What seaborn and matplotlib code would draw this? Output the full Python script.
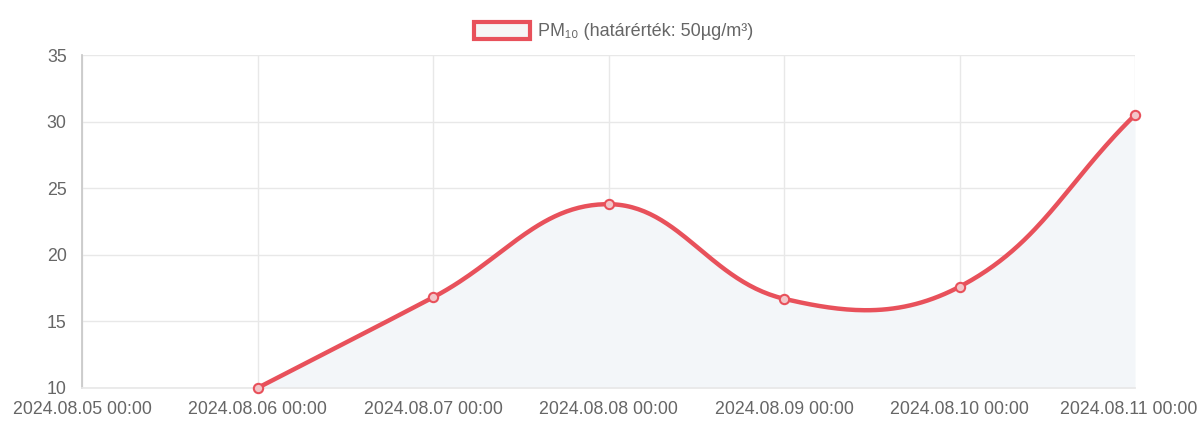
import numpy as np
import pandas as pd
import matplotlib
matplotlib.use("Agg")
import matplotlib.pyplot as plt
import matplotlib.dates as mdates
import matplotlib.transforms as mtransforms
from matplotlib.patches import Rectangle
import seaborn as sns

# ---- data ----
dates = ["2024-08-06", "2024-08-07", "2024-08-08", "2024-08-09", "2024-08-10", "2024-08-11"]
pm10 = [10.0, 16.8, 23.8, 16.7, 17.6, 30.5]
tick_dates = ["2024-08-05", "2024-08-06", "2024-08-07", "2024-08-08", "2024-08-09", "2024-08-10", "2024-08-11"]
label = "PM₁₀ (határérték: 50µg/m³)"

LINE = "#e8515b"
FILL = "#f3f6f9"
TXT = "#666666"
GRID = "#e8e8e8"

sns.set_theme(style="white")
plt.rcParams["font.family"] = ["Liberation Sans", "DejaVu Sans"]

fig = plt.figure(figsize=(12.01, 4.30), dpi=100)
ax = fig.add_axes([82/1201, 1-388/430, (1135-82)/1201, (388-55)/430])

x = mdates.date2num(pd.to_datetime(dates))
y = np.array(pm10, dtype=float)

xmin = mdates.date2num(pd.Timestamp(tick_dates[0]))
xmax = mdates.date2num(pd.Timestamp(tick_dates[-1]))
ymin, ymax = 10, 35

# Chart.js-like bezier smoothing (tension 0.4), distances computed in pixel space
pxx = (1135-82)/(xmax-xmin)
pxy = (388-55)/(ymax-ymin)
P = np.column_stack([x*pxx, y*pxy])
t = 0.4
n = len(P)
cp_prev = P.copy(); cp_next = P.copy()
for i in range(n):
    prev = P[i-1] if i > 0 else P[i]
    nxt = P[i+1] if i < n-1 else P[i]
    d01 = np.hypot(*(P[i]-prev)); d12 = np.hypot(*(nxt-P[i]))
    tot = d01 + d12
    s01 = d01/tot if tot else 0; s12 = d12/tot if tot else 0
    cp_prev[i] = P[i] - t*s01*(nxt-prev)
    cp_next[i] = P[i] + t*s12*(nxt-prev)
cx, cy = [], []
ts = np.linspace(0, 1, 60)
for i in range(n-1):
    p0, p1, p2, p3 = P[i], cp_next[i], cp_prev[i+1], P[i+1]
    b = ((1-ts)**3)[:, None]*p0 + (3*(1-ts)**2*ts)[:, None]*p1 + (3*(1-ts)*ts**2)[:, None]*p2 + (ts**3)[:, None]*p3
    cx.extend(b[:, 0]/pxx); cy.extend(b[:, 1]/pxy)
cx = np.array(cx); cy = np.clip(np.array(cy), ymin, ymax)

ax.fill_between(cx, cy, ymin, color=FILL, zorder=1, linewidth=0)
sns.lineplot(x=cx, y=cy, ax=ax, color=LINE, linewidth=3.2, sort=False, zorder=3)
sns.scatterplot(x=x, y=y, ax=ax, s=45, color="#f3c6c9", edgecolor=LINE, linewidth=1.5, zorder=4, clip_on=False)

ax.set_xlim(xmin, xmax)
ax.set_ylim(ymin, ymax)
ticks = mdates.date2num(pd.to_datetime(tick_dates))
ax.set_xticks(ticks)
ax.set_xticklabels([pd.Timestamp(d).strftime("%Y.%m.%d 00:00") for d in tick_dates])
ax.set_yticks([10, 15, 20, 25, 30, 35])
ax.grid(True, color=GRID, linewidth=1)
ax.set_axisbelow(True)
for s in ["top", "right"]:
    ax.spines[s].set_visible(False)
ax.spines["bottom"].set_color(GRID)
ax.spines["left"].set_color("#c8c8c8")
ax.tick_params(axis="both", colors=TXT, labelsize=12.8, length=7, color=GRID, direction="out")
ax.tick_params(axis="x", pad=2)
ax.tick_params(axis="y", pad=4)
ax.set_xlabel(""); ax.set_ylabel("")

# shift the last x label left so it fits inside the canvas (as Chart.js does)
last = ax.get_xticklabels()[-1]
last.set_transform(last.get_transform() + mtransforms.ScaledTranslation(-6/100, 0, fig.dpi_scale_trans))

# legend
fig.patches.append(Rectangle((474/1201, 1-39/430), 56/1201, 17/430, transform=fig.transFigure,
                             facecolor="#f6f6f6", edgecolor=LINE, linewidth=3))
fig.text(538/1201, 1-31/430, label, color=TXT, fontsize=13, va="center", ha="left")

fig.savefig("out.png", dpi=100, facecolor="white")
